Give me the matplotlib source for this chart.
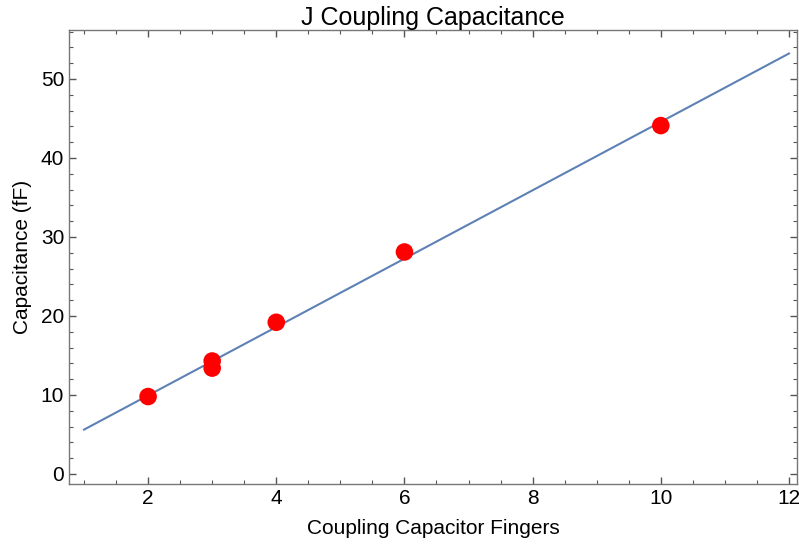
import matplotlib
matplotlib.use("Agg")
import matplotlib.pyplot as plt
import numpy as np
from matplotlib.ticker import MultipleLocator

plt.rcParams['font.family'] = ['Liberation Sans', 'DejaVu Sans']

# measured points
fingers = [2, 3, 3, 4, 6, 10]
capacitance = [9.8, 14.3, 13.4, 19.2, 28.1, 44.1]

# linear fit drawn over the finger range
slope, intercept = np.polyfit(fingers, capacitance, 1)
x_fit = np.linspace(1, 12, 50)
y_fit = slope * x_fit + intercept

fig = plt.figure(figsize=(7.99, 5.49), dpi=100)
ax = fig.add_axes([69 / 799, 1 - 484 / 549, (797 - 69) / 799, (484 - 30) / 549])

ax.plot(x_fit, y_fit, color='#5E81B5', lw=1.5, zorder=2)
ax.scatter(fingers, capacitance, s=160, color='#FF0000', edgecolors='none', zorder=3)

ax.set_xlim(0.766, 12.125)
ax.set_ylim(-1.27, 56.2)
ax.xaxis.set_major_locator(MultipleLocator(2))
ax.xaxis.set_minor_locator(MultipleLocator(0.5))
ax.yaxis.set_major_locator(MultipleLocator(10))
ax.yaxis.set_minor_locator(MultipleLocator(2))
ax.tick_params(which='both', direction='in', top=True, right=True,
               color='#555555', labelsize=15, labelcolor='black')
ax.tick_params(which='major', length=5, width=1)
ax.tick_params(which='minor', length=3, width=0.8)
for s in ax.spines.values():
    s.set_color('#777777')
    s.set_linewidth(1)

ax.set_xlabel('Coupling Capacitor Fingers', fontsize=15, labelpad=8)
ax.set_ylabel('Capacitance (fF)', fontsize=15, labelpad=6)
ax.set_title('J Coupling Capacitance', fontsize=18, pad=3)

fig.savefig('out.png', dpi=100)
